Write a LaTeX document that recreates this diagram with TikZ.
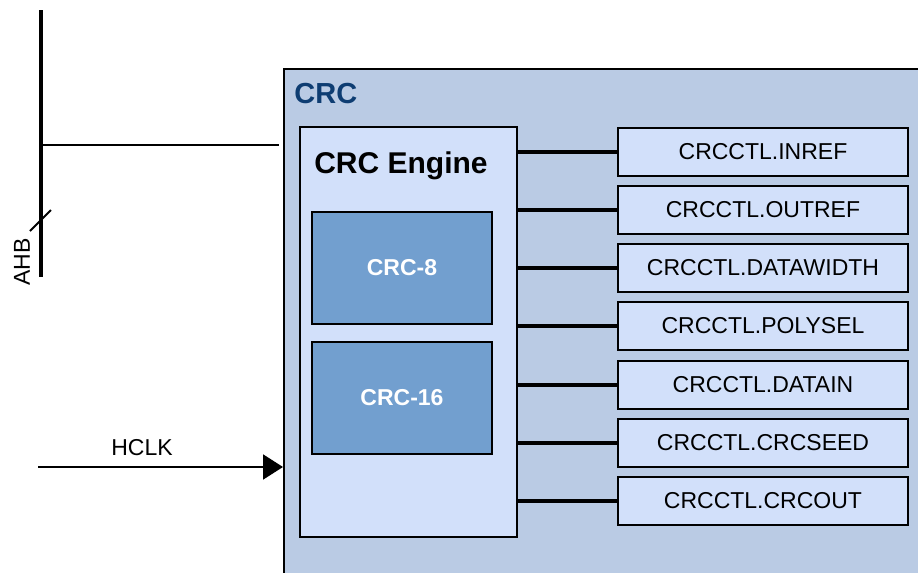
\documentclass[tikz,border=0pt]{standalone}
\usepackage{fontspec}
\setmainfont{Liberation Sans}
\usetikzlibrary{positioning,arrows.meta}

\definecolor{crcouter}{HTML}{BACBE4}
\definecolor{crcinner}{HTML}{D2E0FA}
\definecolor{crcpoly}{HTML}{729FCF}
\definecolor{crctitle}{HTML}{0E3D72}

\tikzset{
	crcbox/.style={draw=black, line width=1pt, fill=crcouter, anchor=north west, inner sep=0pt},
	engbox/.style={draw=black, line width=1pt, fill=crcinner, anchor=north west, inner sep=0pt},
	polybox/.style={draw=black, line width=1pt, fill=crcpoly, text=white, font=\bfseries\fontsize{11.5}{13}\selectfont,
		minimum width=90pt, minimum height=56pt, anchor=north west, inner sep=0pt},
	regbox/.style={draw=black, line width=1pt, fill=crcinner, font=\fontsize{11.5}{13}\selectfont,
		minimum width=145pt, minimum height=24pt, inner sep=0pt},
	regline/.style={line width=2pt},
	bus/.style={line width=2.2pt}
}

\begin{document}
\begin{tikzpicture}[x=0.5pt,y=-0.5pt]
	\useasboundingbox (0,0) rectangle (918,573);
	\clip (0,0) rectangle (918,573);

	\node[crcbox, minimum width=323.5pt, minimum height=261pt] (crc) at (283,68) {};
	\node[anchor=west, inner sep=0pt, text=crctitle, font=\bfseries\fontsize{14.5}{16}\selectfont] (crclabel) at (294,94) {CRC};

	\node[engbox, minimum width=108.5pt, minimum height=205pt] (eng) at (299,126) {};
	\node[font=\bfseries\fontsize{15}{17}\selectfont] (englabel) at (401,166) {CRC Engine};

	\node[polybox] (crc8) at (311,211) {CRC-8};
	\node[polybox] (crc16) at (311,341) {CRC-16};

	\node[regbox] (r1) at (763,152) {CRCCTL.INREF};
	\node[regbox] (r2) at (763,210) {CRCCTL.OUTREF};
	\node[regbox] (r3) at (763,268) {CRCCTL.DATAWIDTH};
	\node[regbox] (r4) at (763,326) {CRCCTL.POLYSEL};
	\node[regbox] (r5) at (763,385) {CRCCTL.DATAIN};
	\node[regbox] (r6) at (763,443) {CRCCTL.CRCSEED};
	\node[regbox] (r7) at (763,501) {CRCCTL.CRCOUT};

	\draw[regline] (r1.west -| eng.east) -- (r1.west);
	\draw[regline] (r2.west -| eng.east) -- (r2.west);
	\draw[regline] (r3.west -| eng.east) -- (r3.west);
	\draw[regline] (r4.west -| eng.east) -- (r4.west);
	\draw[regline] (r5.west -| eng.east) -- (r5.west);
	\draw[regline] (r6.west -| eng.east) -- (r6.west);
	\draw[regline] (r7.west -| eng.east) -- (r7.west);

	% AHB bus
	\coordinate (bustop) at (41,10);
	\coordinate (busbot) at (41,277);
	\coordinate (bustap) at (42,145);
	\coordinate (slasha) at (30,231);
	\coordinate (slashb) at (51,210);
	\draw[bus] (bustop) -- (busbot);
	\draw[line width=1pt] (slasha) -- (slashb);
	\draw[line width=1pt, shorten >=2pt] (bustap) -- (bustap -| crc.west);
	\node[rotate=90, font=\fontsize{11.5}{13}\selectfont] (ahb) at (22,262) {AHB};

	% clock
	\coordinate (hclk) at (38,467);
	\draw[line width=1pt, -{Triangle[length=10pt,width=12.5pt]}] (hclk) -- (hclk -| crc.west);
	\node[font=\fontsize{11.5}{13}\selectfont] (hclklabel) at (142,448) {HCLK};

\end{tikzpicture}
\end{document}
